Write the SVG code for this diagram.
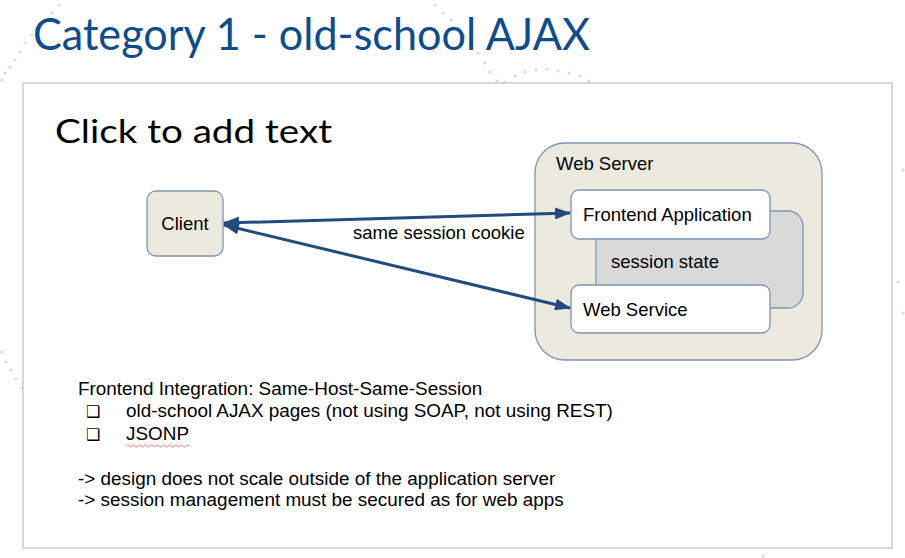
<svg xmlns="http://www.w3.org/2000/svg" width="905" height="558" viewBox="0 0 905 558">
  <defs>
    <style>
      .title { font-family: Lato, "Open Sans", sans-serif; fill: #0f4c8c; font-size: 44px; }
      .sub { font-family: Lato, "Open Sans", sans-serif; fill: #000; font-size: 32px; }
      .lbl { font-family: "Liberation Sans", Arial, sans-serif; font-size: 18.5px; fill: #000; }
      .note { font-family: "Liberation Sans", Arial, sans-serif; font-size: 18.9px; fill: #000; }
      .box { stroke: #7f95b3; stroke-width: 1.3; }
      .beige { fill: #ece9df; }
      .white { fill: #ffffff; }
      .gray { fill: #d9d9d9; }
      .conn { stroke: #234b7d; stroke-width: 3; fill: none; marker-end: url(#ah); marker-start: url(#ah); }
      .dot { fill: #d4d9e3; }
      .bullet { font-family: "DejaVu Sans", sans-serif; font-size: 16px; font-weight: bold; fill: #000; }
    </style>
    <marker id="ah" viewBox="0 0 16 12" refX="15" refY="6" markerWidth="16" markerHeight="12" markerUnits="userSpaceOnUse" orient="auto-start-reverse">
      <path d="M0,0 L16,6 L0,12 z" fill="#234b7d"/>
    </marker>
  </defs>

  <rect x="0" y="0" width="905" height="558" fill="#ffffff"/>

  <g id="decor">
    <circle class="dot" cx="59" cy="5" r="1.6"/>
    <circle class="dot" cx="52" cy="13" r="1.6"/>
    <circle class="dot" cx="45" cy="20" r="1.6"/>
    <circle class="dot" cx="37" cy="28" r="1.6"/>
    <circle class="dot" cx="32" cy="35" r="1.6"/>
    <circle class="dot" cx="25" cy="43" r="1.6"/>
    <circle class="dot" cx="20" cy="52" r="1.6"/>
    <circle class="dot" cx="15" cy="60" r="1.6"/>
    <circle class="dot" cx="10" cy="67" r="1.6"/>
    <circle class="dot" cx="5" cy="73" r="1.6"/>
    <circle class="dot" cx="2" cy="80" r="1.6"/>
    <circle class="dot" cx="435" cy="5" r="1.6"/>
    <circle class="dot" cx="443" cy="13" r="1.6"/>
    <circle class="dot" cx="451" cy="20" r="1.6"/>
    <circle class="dot" cx="458" cy="28" r="1.6"/>
    <circle class="dot" cx="465" cy="36" r="1.6"/>
    <circle class="dot" cx="472" cy="44" r="1.6"/>
    <circle class="dot" cx="478" cy="53" r="1.6"/>
    <circle class="dot" cx="485" cy="63" r="1.6"/>
    <circle class="dot" cx="490" cy="72" r="1.6"/>
    <circle class="dot" cx="497" cy="81" r="1.6"/>
    <circle class="dot" cx="505" cy="82" r="1.6"/>
    <circle class="dot" cx="515" cy="76" r="1.6"/>
    <circle class="dot" cx="525" cy="72" r="1.6"/>
    <circle class="dot" cx="536" cy="70" r="1.6"/>
    <circle class="dot" cx="547" cy="69" r="1.6"/>
    <circle class="dot" cx="558" cy="71" r="1.6"/>
    <circle class="dot" cx="569" cy="73" r="1.6"/>
    <circle class="dot" cx="580" cy="76" r="1.6"/>
    <circle class="dot" cx="589" cy="81" r="1.6"/>
    <circle class="dot" cx="2" cy="352" r="1.6"/>
    <circle class="dot" cx="6" cy="362" r="1.6"/>
    <circle class="dot" cx="11" cy="370" r="1.6"/>
    <circle class="dot" cx="16" cy="379" r="1.6"/>
    <circle class="dot" cx="22" cy="388" r="1.6"/>
    <circle class="dot" cx="763" cy="556" r="1.6"/>
    <circle class="dot" cx="903" cy="170" r="1.6"/>
    <circle class="dot" cx="898" cy="282" r="1.6"/>
    <circle class="dot" cx="903" cy="313" r="1.6"/>
  </g>

  <text class="title" x="33" y="50" textLength="557" lengthAdjust="spacingAndGlyphs">Category 1 - old-school AJAX</text>

  <rect id="frame" x="23" y="83" width="869" height="465" fill="#ffffff" stroke="#c3c3c3" stroke-width="1.3"/>

  <text class="sub" x="55" y="143" textLength="277" lengthAdjust="spacingAndGlyphs">Click to add text</text>

  <g id="webserver">
    <rect class="box beige" x="535" y="143" width="287" height="217" rx="30" ry="30"/>
    <text class="lbl" x="556" y="170">Web Server</text>
  </g>

  <g id="sessionstate">
    <rect class="box gray" x="596" y="211" width="207" height="97" rx="15" ry="15"/>
    <text class="lbl" x="611" y="268">session state</text>
  </g>

  <g id="frontend">
    <rect class="box white" x="571" y="190" width="199" height="49" rx="8" ry="8"/>
    <text class="lbl" x="583" y="221">Frontend Application</text>
  </g>

  <g id="webservice">
    <rect class="box white" x="571" y="285" width="199" height="48" rx="8" ry="8"/>
    <text class="lbl" x="583" y="316">Web Service</text>
  </g>

  <g id="client">
    <rect class="box beige" x="147" y="191" width="76" height="65" rx="9" ry="9"/>
    <text class="lbl" x="185" y="230" text-anchor="middle">Client</text>
  </g>

  <g id="connectors">
    <path class="conn" d="M224,223 L570,213"/>
    <path class="conn" d="M224,225 L570,308"/>
    <text class="lbl" x="353" y="239">same session cookie</text>
  </g>

  <g id="notes">
    <text class="note" x="78" y="395">Frontend Integration: Same-Host-Same-Session</text>
    <text class="bullet" x="86" y="417">❑</text>
    <text class="note" x="126" y="417">old-school AJAX pages (not using SOAP, not using REST)</text>
    <text class="bullet" x="86" y="440">❑</text>
    <text class="note" x="126" y="440">JSONP</text>
    <path d="M126,446 q1.5,-2 3,0 t3,0 t3,0 t3,0 t3,0 t3,0 t3,0 t3,0 t3,0 t3,0 t3,0 t3,0 t3,0 t3,0 t3,0 t3,0 t3,0 t3,0 t3,0 t3,0 t3,0" fill="none" stroke="#e06060" stroke-width="0.8"/>
    <text class="note" x="78" y="485">-&gt; design does not scale outside of the application server</text>
    <text class="note" x="78" y="506">-&gt; session management must be secured as for web apps</text>
  </g>
</svg>
